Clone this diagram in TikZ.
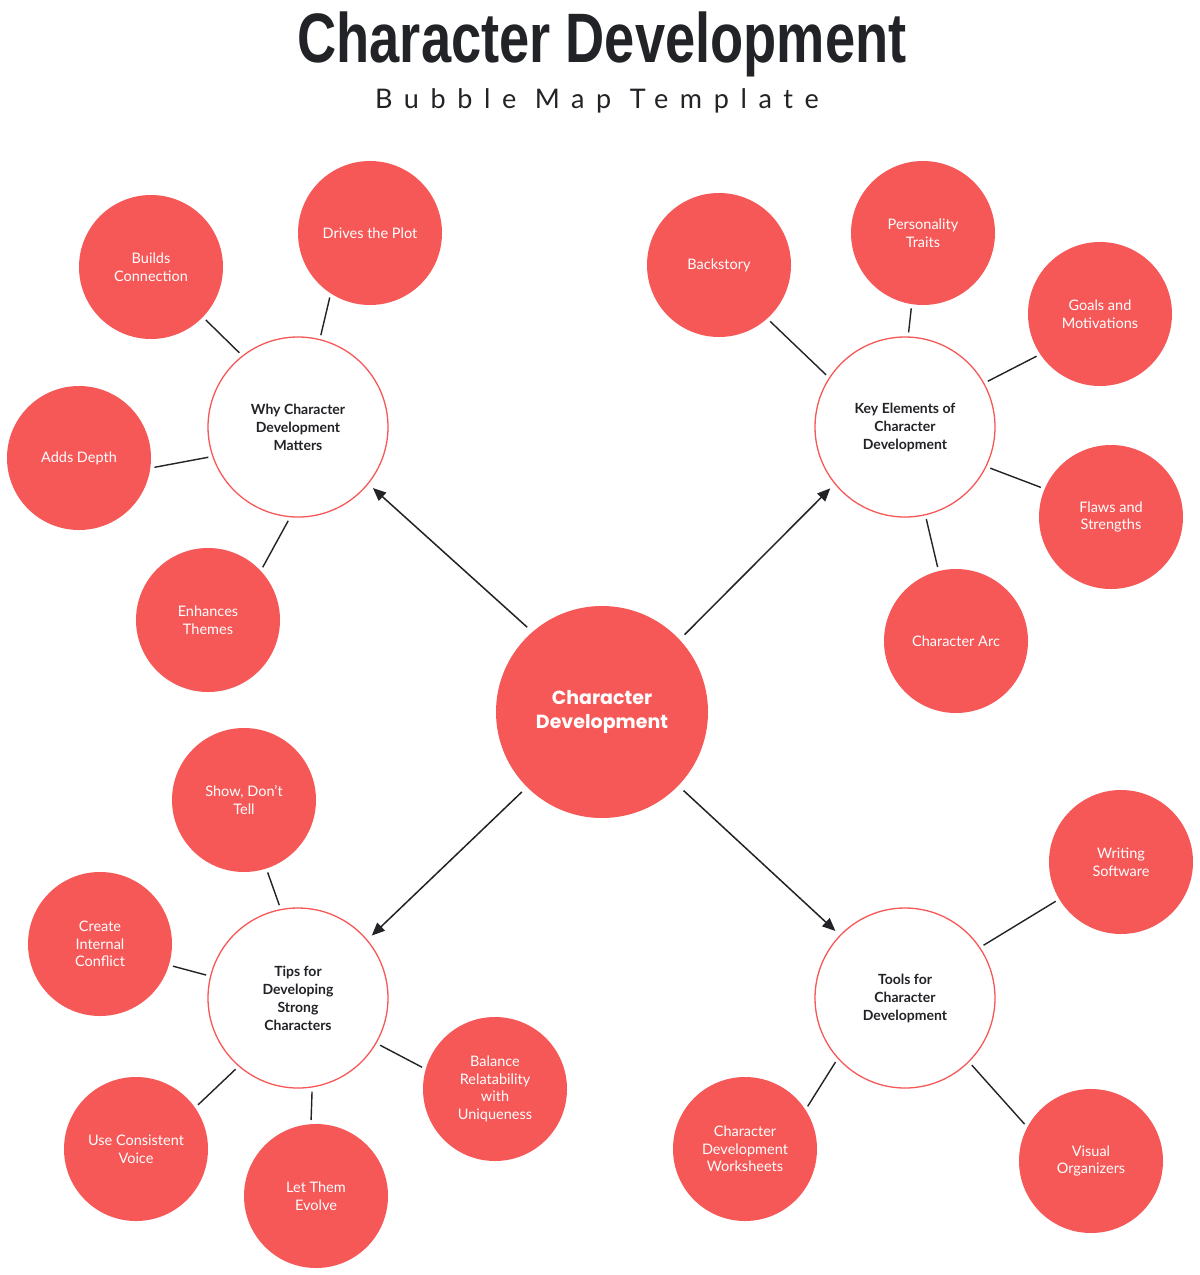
\documentclass[tikz,border=0pt]{standalone}
\usepackage{fontspec}
\usepackage{graphicx}
\usetikzlibrary{arrows.meta}
\newfontfamily\leaffont{Lato}
\newfontfamily\corefont{Poppins}
\newfontfamily\titlefont{Liberation Sans}
\newfontfamily\subfont[LetterSpace=43]{Lato}
\definecolor{bubred}{HTML}{F65757}
\definecolor{ink}{HTML}{222327}
\tikzset{
  leaf/.style={circle, fill=bubred, minimum size=144pt, inner sep=0pt, align=center,
    text=white, font=\leaffont\fontsize{14.5}{17.5}\selectfont},
  hub/.style={circle, draw=bubred, line width=1.3pt, fill=white, minimum size=180pt, inner sep=0pt,
    align=center, text=ink, font=\leaffont\bfseries\fontsize{14}{18}\selectfont},
  core/.style={circle, fill=bubred, minimum size=212pt, inner sep=0pt, align=center,
    text=white, font=\corefont\bfseries\fontsize{19}{23.5}\selectfont},
  link/.style={draw=ink, line width=1.4pt, shorten <=4pt, shorten >=4pt},
  feed/.style={draw=ink, line width=1.5pt, shorten <=7pt, shorten >=6pt,
    -{Triangle[length=13pt,width=11pt]}}
}
\begin{document}
\begin{tikzpicture}[x=1pt,y=-1pt]
\useasboundingbox (0,0) rectangle (1200,1275);
\fill[white] (0,0) rectangle (1200,1275);
% titles
\node[font=\titlefont\bfseries\fontsize{70}{70}\selectfont, text=ink, anchor=base, inner sep=0pt] (title) at (602,62) {\scalebox{0.775}[1]{Character Development}};
\node[font=\subfont\fontsize{27}{27}\selectfont, text=ink, anchor=base, inner sep=0pt] (sub) at (597,108) {Bubble Map Template};
% core
\node[core] (core) at (602,712) {Character\\Development};
% hubs
\node[hub] (why) at (298,427) {Why Character\\Development\\Matters};
\node[hub] (key) at (905,427) {Key Elements of\\Character\\Development};
\node[hub] (tips) at (298,998) {Tips for\\Developing\\Strong\\Characters};
\node[hub] (tools) at (905,998) {Tools for\\Character\\Development};
% leaves
\node[leaf] (bc) at (151,267) {Builds\\Connection};
\node[leaf] (dp) at (370,233) {Drives the Plot};
\node[leaf] (ad) at (79,458) {Adds Depth};
\node[leaf] (et) at (208,620) {Enhances\\Themes};
\node[leaf] (bs) at (719,265) {Backstory};
\node[leaf] (pt) at (923,233) {Personality\\Traits};
\node[leaf] (gm) at (1100,314) {Goals and\\Motivations};
\node[leaf] (fs) at (1111,517) {Flaws and\\Strengths};
\node[leaf] (ca) at (956,641) {Character Arc};
\node[leaf] (sd) at (244,800) {Show, Don’t\\Tell};
\node[leaf] (ci) at (100,944) {Create\\Internal\\Conflict};
\node[leaf] (br) at (495,1089) {Balance\\Relatability\\with\\Uniqueness};
\node[leaf] (uv) at (136,1149) {Use Consistent\\Voice};
\node[leaf] (le) at (316,1196) {Let Them\\Evolve};
\node[leaf] (ws) at (1121,862) {Writing\\Software};
\node[leaf] (cw) at (745,1149) {Character\\Development\\Worksheets};
\node[leaf] (vo) at (1091,1161) {Visual\\Organizers};
% arrows
\draw[feed] (core.131) -- (why.-39);
\draw[feed] (core.43) -- (key.219);
\draw[feed] (core.225) -- (tips.40);
\draw[feed] (core.-44) -- (tools.136);
% links
\draw[link] (bc.-44) -- (why.128);
\draw[link] (dp.237) -- (why.76);
\draw[link] (ad.-8) -- (why.199);
\draw[link] (et.43) -- (why.265);
\draw[link] (bs.-48) -- (key.147);
\draw[link] (pt.261) -- (key.88);
\draw[link] (gm.214) -- (key.29);
\draw[link] (fs.157) -- (key.-26);
\draw[link] (ca.104) -- (key.-77);
\draw[link] (sd.-72) -- (tips.101);
\draw[link] (ci.-17) -- (tips.166);
\draw[link] (br.164) -- (tips.-30);
\draw[link] (uv.35) -- (tips.229);
\draw[link] (le.94) -- (tips.-81);
\draw[link] (ws.211) -- (tools.34);
\draw[link] (cw.33) -- (tools.222);
\draw[link] (vo.152) -- (tools.-45);
\end{tikzpicture}
\end{document}
